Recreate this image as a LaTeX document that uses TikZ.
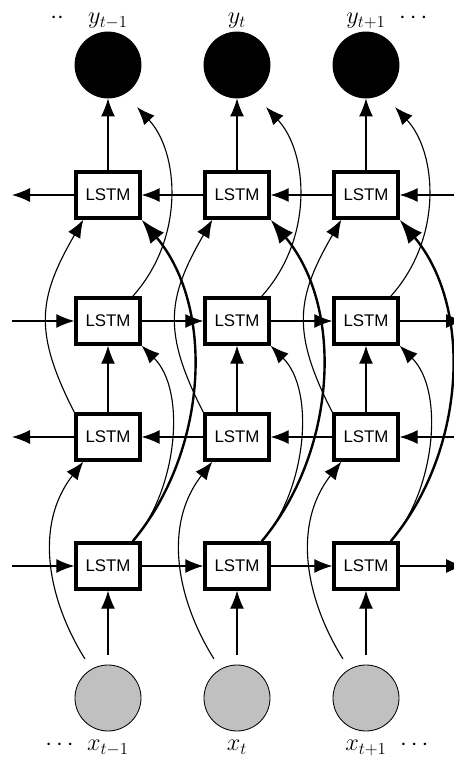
\documentclass[tikz,border=0pt]{standalone}
\usepackage{fontspec}
\usepackage{amsmath}
\usetikzlibrary{arrows.meta,positioning}
\newfontfamily\cellfont{Liberation Sans}
\definecolor{obsgray}{HTML}{C0C0C0}
\tikzset{
  >={Latex[length=4.5mm,width=3.5mm]},
  cell/.style={draw,line width=2.4pt,fill=white,minimum width=1.6cm,minimum height=1.15cm,inner sep=0pt,font=\cellfont\large},
  inp/.style={circle,draw,line width=.6pt,fill=obsgray,minimum size=1.65cm,inner sep=0pt},
  outp/.style={circle,draw,line width=.6pt,fill=black,minimum size=1.65cm,inner sep=0pt},
  lbl/.style={inner sep=0pt,font=\LARGE},
  link/.style={->,line width=.8pt},
  deep/.style={-{Latex[length=6mm,width=4.4mm]},line width=1.7pt},
}

\begin{document}
\begin{tikzpicture}[x=1cm,y=1cm]
  \useasboundingbox (0,0) rectangle (11.35,19.1);

  % one column per time step
  \foreach \i/\cx in {1/2.7,2/5.925,3/9.15}{
    \node[inp]  (x\i)   at (\cx,1.65)   {};
    \node[cell] (h1-\i) at (\cx,4.95)   {LSTM};
    \node[cell] (h2-\i) at (\cx,8.175)  {LSTM};
    \node[cell] (h3-\i) at (\cx,11.075) {LSTM};
    \node[cell] (h4-\i) at (\cx,14.225) {LSTM};
    \node[outp] (y\i)   at (\cx,17.475) {};
  }
  % loose ends of the recurrent rows
  \foreach \r/\ry in {1/4.95,2/8.175,3/11.075,4/14.225}{
    \coordinate (h\r-0) at (0.3,\ry);
    \coordinate (h\r-4) at (11.6,\ry);
  }

  \node[lbl,above=2pt of y1] (ly1) {$\llap{$\cdot\cdot\quad$}y_{t-1}$};
  \node[lbl,above=2pt of y2] (ly2) {$y_t$};
  \node[lbl,above=2pt of y3] (ly3) {$y_{t+1}\rlap{$\;\;\cdots$}$};
  \node[lbl,below=6pt of x1] (lx1) {$\llap{$\cdots\;\;$}x_{t-1}$};
  \node[lbl,below=6pt of x2] (lx2) {$x_t$};
  \node[lbl,below=6pt of x3] (lx3) {$x_{t+1}\rlap{$\;\;\cdots$}$};

  % forward rows run left to right, backward rows right to left
  \foreach \a/\b in {0/1,1/2,2/3,3/4}{
    \draw[link] (h1-\a) -- (h1-\b);
    \draw[link] (h3-\a) -- (h3-\b);
    \draw[link] (h2-\b) -- (h2-\a);
    \draw[link] (h4-\b) -- (h4-\a);
  }

  \foreach \i in {1,2,3}{
    \draw[link,shorten <=0.25cm] (x\i) -- (h1-\i);
    \draw[link,shorten <=0.3cm] (x\i.120) to[out=122,in=-128] (h2-\i.-135);
    \draw[link] (h2-\i) -- (h3-\i);
    \draw[link] (h2-\i.north west) to[out=117,in=-120,looseness=1.2] (h4-\i.-135);
    \draw[link] (h1-\i.45) to[out=48,in=-45,looseness=.85] (h3-\i.south east);
    \draw[deep] (h1-\i.45) to[out=50,in=-50,looseness=.92] (h4-\i.south east);
    \draw[link] (h4-\i) -- (y\i);
    \draw[link,shorten >=0.45cm] (h3-\i.45) to[out=48,in=-47] (y\i.-60);
  }
\end{tikzpicture}
\end{document}
